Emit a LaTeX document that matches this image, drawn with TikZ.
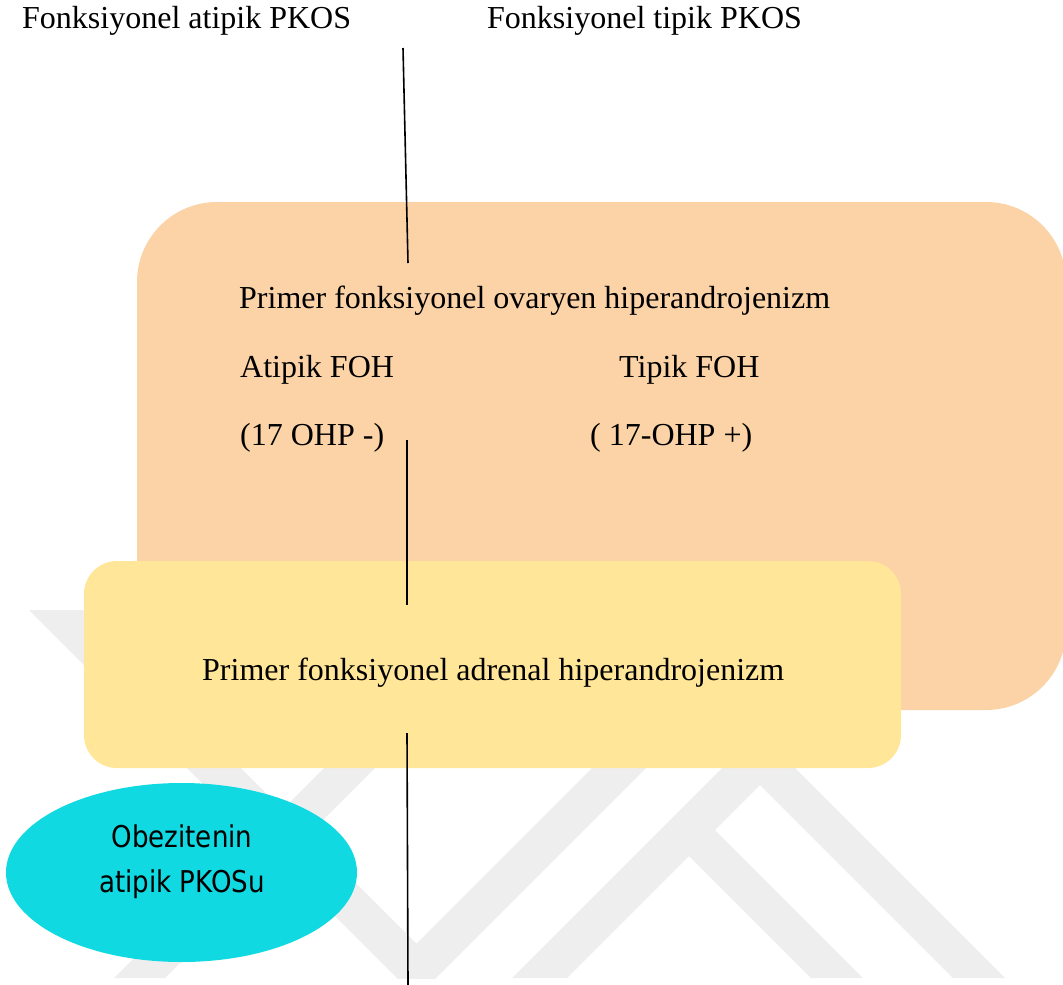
\documentclass[tikz,border=0pt]{standalone}
\usepackage{fontspec}
\setmainfont{Liberation Serif}
\newfontfamily\ellfont[FakeStretch=0.87]{DejaVu Sans}
\usetikzlibrary{shapes.geometric}
\definecolor{orangebox}{RGB}{251,211,166}
\definecolor{yellowbox}{RGB}{255,230,153}
\definecolor{cyanell}{RGB}{16,217,225}
\definecolor{wmark}{RGB}{238,238,238}
\tikzset{
  txt/.style={anchor=base west, inner sep=0pt, font=\fontsize{32}{38}\selectfont},
  elltxt/.style={anchor=base, inner sep=0pt, font=\ellfont\fontsize{30}{36}\selectfont},
  conn/.style={draw=black, line width=1.6pt},
  wm/.style={fill=wmark, draw=none}
}
\begin{document}
\begin{tikzpicture}[x=1pt,y=-1pt]
\useasboundingbox (0,0) rectangle (1063,985);
% watermark
\begin{scope}
\clip (0,610) rectangle (1063,978);
\fill[wm] (29,610) -- (83,610) -- (416.5,943.5) -- (750,610) -- (804,610) -- (416.5,997.5) -- cycle;
\fill[wm] (482,610) -- (533,610) -- (165,978) -- (114,978) -- cycle;
\fill[wm] (758.5,731.5) -- (1005,978) -- (953,978) -- (760,785) -- (567,978) -- (512,978) -- cycle;
\fill[wm] (689,856) -- (715,830) -- (863,978) -- (811,978) -- cycle;
\end{scope}
% boxes
\node[fill=orangebox, rounded corners=80pt, minimum width=929pt, minimum height=508pt, inner sep=0pt] (ovary) at (601.5,456) {};
\node[fill=yellowbox, rounded corners=33pt, minimum width=817pt, minimum height=207pt, inner sep=0pt] (adrenal) at (492.5,664.5) {};
\node[ellipse, fill=cyanell, minimum width=351pt, minimum height=179pt, inner sep=0pt] (obez) at (181.5,872.5) {};
% connectors
\coordinate (l1a) at (403,48);
\coordinate (l1b) at (408,263);
\coordinate (l2a) at (407,440);
\coordinate (l2b) at (407,605);
\coordinate (l3a) at (407,733);
\coordinate (l3b) at (408,985);
\draw[conn] (l1a) -- (l1b);
\draw[conn] (l2a) -- (l2b);
\draw[conn] (l3a) -- (l3b);
% texts
\node[txt] (t1) at (22,28.5) {Fonksiyonel atipik PKOS};
\node[txt] (t2) at (487,28.5) {Fonksiyonel tipik PKOS};
\node[txt] (t3) at (239,308) {Primer fonksiyonel ovaryen hiperandrojenizm};
\node[txt] (t4) at (240,377) {Atipik FOH};
\node[txt] (t5) at (619,377) {Tipik FOH};
\node[txt] (t6) at (240,445) {(17 OHP -)};
\node[txt] (t7) at (590,445) {( 17-OHP +)};
\node[txt] (t8) at (202,680) {Primer fonksiyonel adrenal hiperandrojenizm};
\node[elltxt] (e1) at (182,847) {Obezitenin};
\node[elltxt] (e2) at (182,892) {atipik PKOSu};
\end{tikzpicture}
\end{document}
